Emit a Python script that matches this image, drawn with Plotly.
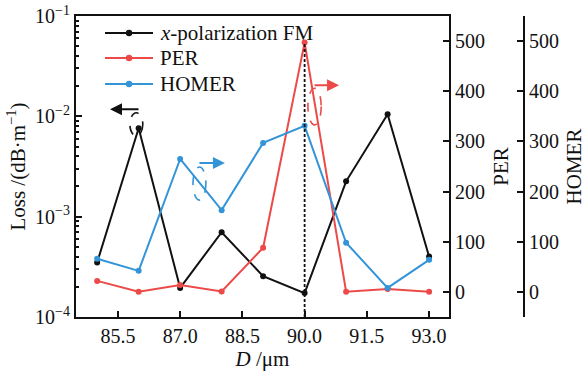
import plotly.graph_objects as go

D = [85.0, 86.0, 87.0, 88.0, 89.0, 90.0, 91.0, 92.0, 93.0]
loss_x = [3.5e-4, 7.6e-3, 1.95e-4, 7.0e-4, 2.55e-4, 1.73e-4, 2.25e-3, 1.05e-2, 4.0e-4]
per = [22, 0.5, 14, 0.8, 88, 497, 0.3, 6, 0.5]
homer = [66, 42, 265, 163, 297, 331, 98, 8, 64]

x_ticks = [85.5, 87.0, 88.5, 90.0, 91.5, 93.0]
loss_ticks = [1e-4, 1e-3, 1e-2, 1e-1]
loss_ticklabels = ["10<sup>−4</sup>", "10<sup>−3</sup>", "10<sup>−2</sup>", "10<sup>−1</sup>"]
loss_minor = [k * 10.0 ** e for e in (-4, -3, -2) for k in range(2, 10)]
right_ticks = [0, 100, 200, 300, 400, 500]
series_names = ["<i>x</i>-polarization FM", "PER", "HOMER"]

BLACK = "#111111"
RED = "#ec4a48"
BLUE = "#3394d8"
COLORS = [BLACK, RED, BLUE]
FONT = "Liberation Serif"

fig = go.Figure()
for vals, name, col, ax in zip([loss_x, per, homer], series_names, COLORS, ["y", "y2", "y3"]):
    fig.add_trace(go.Scatter(x=D, y=vals, name=name, mode="lines+markers", showlegend=False,
                             line=dict(color=col, width=2), marker=dict(size=6, color=col), yaxis=ax))

imax = per.index(max(per))
shapes = [
    dict(type="line", xref="x", yref="y2", x0=D[imax], x1=D[imax], y0=-50, y1=per[imax],
         line=dict(color=BLACK, width=1.8, dash="3px,2px")),
    dict(type="circle", xref="x", yref="y2", x0=85.79, x1=86.10, y0=311, y1=357,
         line=dict(color=BLACK, width=1.6, dash="dash")),
    dict(type="circle", xref="x", yref="y2", x0=87.31, x1=87.62, y0=183, y1=249,
         line=dict(color=BLUE, width=1.6, dash="dash")),
    dict(type="circle", xref="x", yref="y2", x0=90.08, x1=90.40, y0=333, y1=406,
         line=dict(color=RED, width=1.6, dash="dash")),
]
annotations = [
    dict(x=85.31, y=364, xref="x", yref="y2", ax=30, ay=0, text="", showarrow=True,
         arrowhead=2, arrowsize=1.2, arrowwidth=2, arrowcolor=BLACK),
    dict(x=88.08, y=257, xref="x", yref="y2", ax=-27, ay=0, text="", showarrow=True,
         arrowhead=2, arrowsize=1.2, arrowwidth=2, arrowcolor=BLUE),
    dict(x=90.83, y=412, xref="x", yref="y2", ax=-26, ay=0, text="", showarrow=True,
         arrowhead=2, arrowsize=1.2, arrowwidth=2, arrowcolor=RED),
]

# custom legend (longer line samples like the reference)
leg_y = [0.9435, 0.8605, 0.774]
for name, col, yy in zip(series_names, COLORS, leg_y):
    shapes.append(dict(type="line", xref="paper", yref="paper", x0=0.0569, x1=0.151, y0=yy, y1=yy,
                       line=dict(color=col, width=2)))
    shapes.append(dict(type="circle", xref="paper", yref="paper", xsizemode="pixel", ysizemode="pixel",
                       xanchor=0.104, yanchor=yy, x0=-3.2, x1=3.2, y0=-3.2, y1=3.2,
                       fillcolor=col, line=dict(color=col, width=0)))
    annotations.append(dict(x=0.1608, y=yy, xref="paper", yref="paper", text=name, showarrow=False,
                            xanchor="left", yanchor="middle",
                            font=dict(family=FONT, size=21, color=BLACK)))

axis_common = dict(showline=True, linecolor=BLACK, linewidth=2, ticks="inside", ticklen=6,
                   tickwidth=2, tickcolor=BLACK, showgrid=False, zeroline=False, automargin=False,
                   tickfont=dict(family=FONT, size=20, color=BLACK))
title_font = dict(family=FONT, size=21, color=BLACK)

fig.update_layout(
    width=586, height=371,
    margin=dict(l=76, r=0, t=16, b=54),
    paper_bgcolor="white", plot_bgcolor="white",
    font=dict(family=FONT, size=18, color=BLACK),
    showlegend=False,
    xaxis=dict(domain=[0, 0.7314], range=[84.49, 93.48], tickvals=x_ticks,
               ticktext=[f"{v:.1f}" for v in x_ticks], mirror=True,
               title=dict(text="<i>D</i> /μm", font=title_font, standoff=0),
               **axis_common),
    yaxis=dict(type="log", range=[-4, -1], tickvals=loss_ticks, ticktext=loss_ticklabels,
               minor=dict(tickmode="array", tickvals=loss_minor, ticks="inside", ticklen=3,
                          tickwidth=1.5, tickcolor=BLACK, showgrid=False),
               title=dict(text="Loss /(dB·m<sup>−1</sup>)", font=title_font, standoff=4),
               **axis_common),
    yaxis2=dict(overlaying="y", side="right", anchor="x", range=[-50, 550], tickvals=right_ticks,
                title=dict(text="PER", font=title_font, standoff=9),
                **axis_common),
    yaxis3=dict(overlaying="y", side="right", anchor="free", position=0.8784, range=[-50, 550],
                tickvals=right_ticks,
                title=dict(text="HOMER", font=title_font, standoff=9),
                **axis_common),
    shapes=shapes,
    annotations=annotations,
)

fig.write_html("out.html", config={"displayModeBar": False},
               post_script="document.body.style.margin='0px';document.body.style.padding='0px';")
